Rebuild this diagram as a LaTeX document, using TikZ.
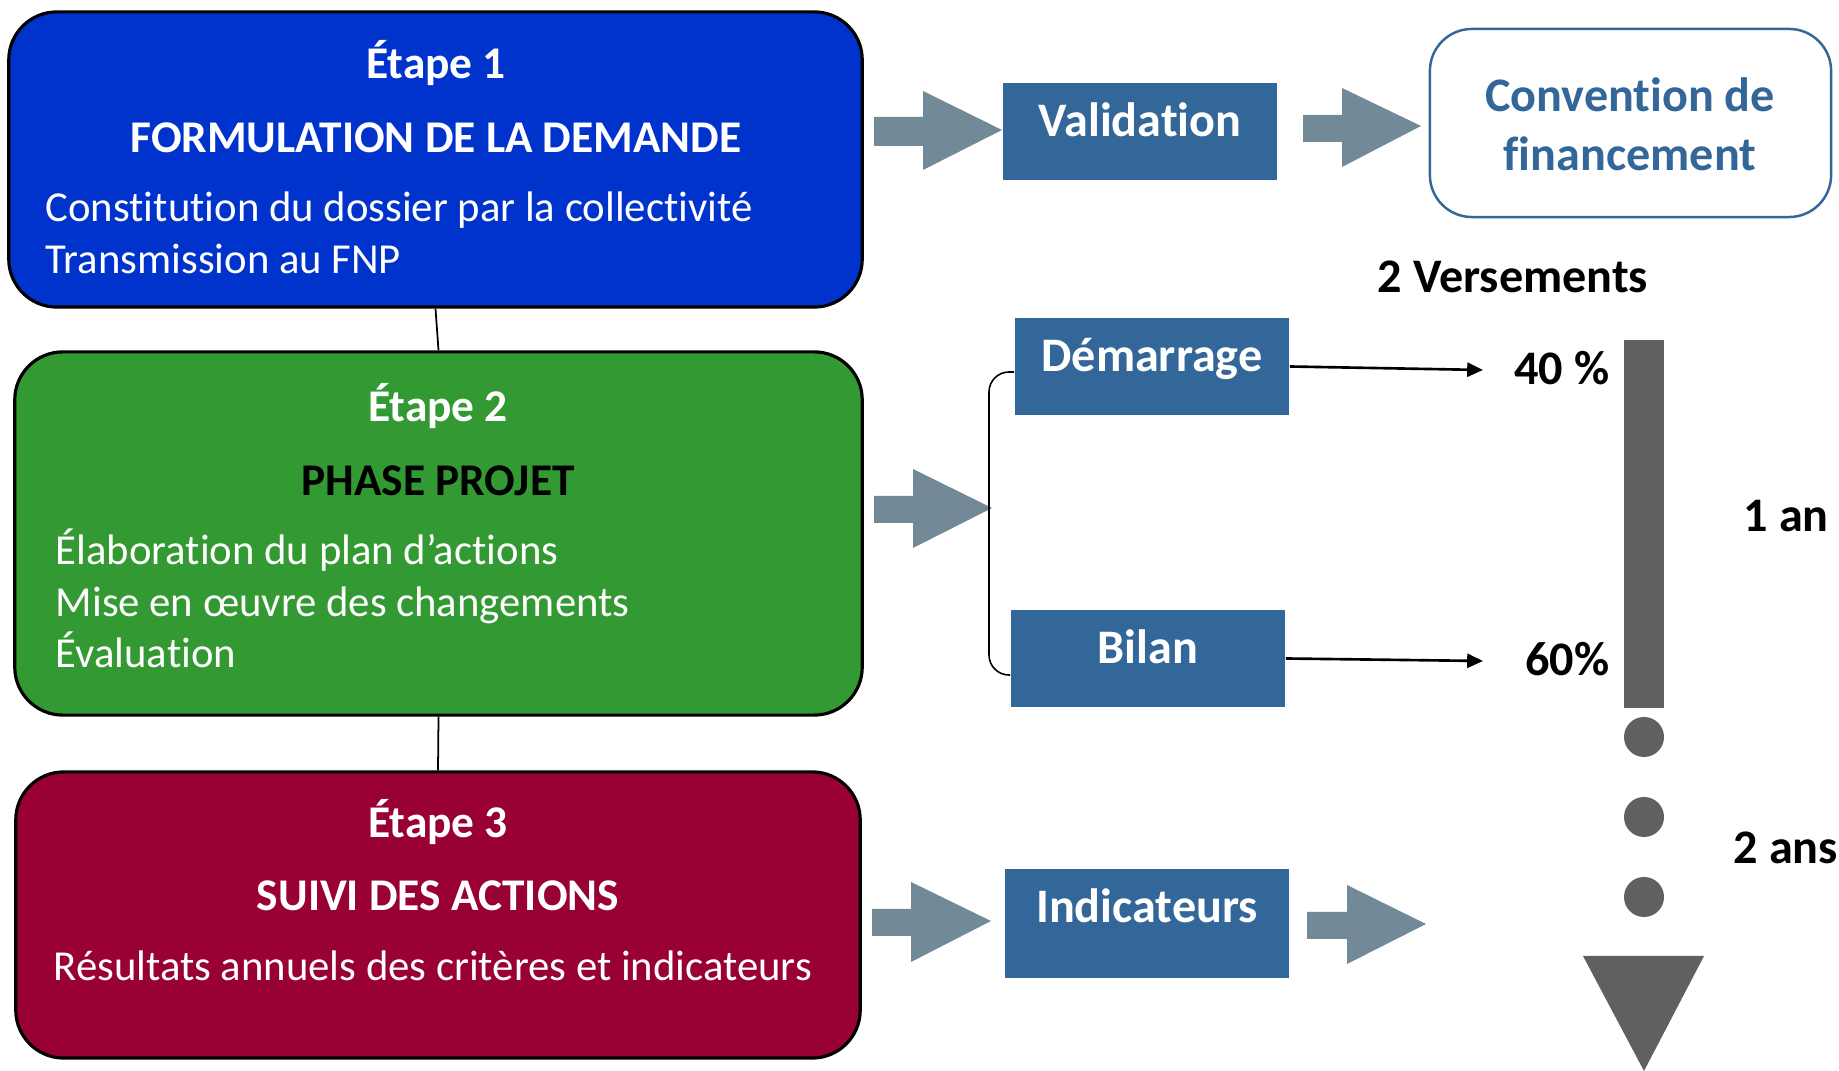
\documentclass[tikz,border=0pt]{standalone}
\usepackage{fontspec}
\setmainfont{Carlito}[Ligatures=NoCommon]
\usetikzlibrary{arrows.meta}
\definecolor{stepblue}{HTML}{0033CC}
\definecolor{stepgreen}{HTML}{339933}
\definecolor{stepred}{HTML}{990033}
\definecolor{boxblue}{HTML}{336699}
\definecolor{arrowgray}{HTML}{728A98}
\definecolor{bargray}{HTML}{606060}
\begin{document}
\begin{tikzpicture}[x=0.01cm,y=-0.01cm,
  stage/.style={draw=black, line width=0.9pt, rounded corners=0.48cm, inner sep=0pt},
  bluebox/.style={fill=boxblue, inner sep=0pt},
  ttl/.style={font=\fontsize{12.9}{15}\selectfont\bfseries, text=white, anchor=base, inner sep=0pt},
  body/.style={font=\fontsize{12.15}{15}\selectfont, text=white, anchor=base west, inner sep=0pt},
  lbl/.style={font=\fontsize{13.7}{16}\selectfont\bfseries, inner sep=0pt},
  blockarrow/.style={fill=arrowgray},
  payarrow/.style={line width=0.75pt, -{Triangle[length=4.5pt,width=4pt]}},
  bracket/.style={line width=0.45pt, rounded corners=0.2cm}
]
\useasboundingbox (0,0) rectangle (1839,1071);

% stage boxes
\node[stage, fill=stepblue, minimum width=8.53cm, minimum height=2.95cm] (s1) at (435.5,159.5) {};
\node[stage, fill=stepgreen, minimum width=8.47cm, minimum height=3.63cm] (s2) at (438.5,533.5) {};
\node[stage, fill=stepred, minimum width=8.44cm, minimum height=2.86cm] (s3) at (438,915) {};

\draw[line width=0.5pt] (s1.south) -- (s2.north);
\draw[line width=0.5pt] (s2.south) -- (s3.north);

% stage 1 texts
\node[ttl] (t1a) at (436,79) {Étape 1};
\node[ttl] (t1b) at (436,153) {FORMULATION DE LA DEMANDE};
\node[body] (t1c) at (45,222) {Constitution du dossier par la collectivité};
\node[body] (t1d) at (45,274) {Transmission au FNP};

% stage 2 texts
\node[ttl] (t2a) at (438,422) {Étape 2};
\node[ttl, text=black] (t2b) at (438,496) {PHASE PROJET};
\node[body] (t2c) at (55,565) {Élaboration du plan d’actions};
\node[body] (t2d) at (55,617) {Mise en œuvre des changements};
\node[body] (t2e) at (55,668) {Évaluation};

% stage 3 texts
\node[ttl] (t3a) at (438,838) {Étape 3};
\node[ttl] (t3b) at (438,911) {SUIVI DES ACTIONS};
\node[body] (t3c) at (53,981) {Résultats annuels des critères et indicateurs};

% blue boxes
\node[bluebox, minimum width=2.74cm, minimum height=0.97cm] (val) at (1140,131.5) {};
\node[bluebox, minimum width=2.74cm, minimum height=0.97cm] (dem) at (1152,366.5) {};
\node[bluebox, minimum width=2.74cm, minimum height=0.97cm] (bil) at (1148,658.5) {};
\node[bluebox, minimum width=2.84cm, minimum height=1.09cm] (ind) at (1147,923.5) {};

\node[lbl, text=white, anchor=base] (valt) at (1140,137) {Validation};
\node[lbl, text=white, anchor=base] (demt) at (1152,372) {Démarrage};
\node[lbl, text=white, anchor=base] (bilt) at (1148,664) {Bilan};
\node[lbl, text=white, anchor=base] (indt) at (1147,923) {Indicateurs};

% convention box
\node[draw=boxblue, line width=0.7pt, fill=white, rounded corners=0.42cm, minimum width=4.01cm, minimum height=1.88cm, inner sep=0pt] (conv) at (1630.5,123) {};
\node[lbl, text=boxblue, anchor=base] (convt1) at (1630,112) {Convention de};
\node[lbl, text=boxblue, anchor=base] (convt2) at (1630,171) {financement};

% block arrows
\fill[blockarrow] (874,117) -- (923,117) -- (923,91) -- (1002,130) -- (923,170) -- (923,146) -- (874,146) -- cycle;
\fill[blockarrow] (1303,115) -- (1342,115) -- (1342,88) -- (1421,126) -- (1342,167) -- (1342,142) -- (1303,142) -- cycle;
\fill[blockarrow] (874,496) -- (913,496) -- (913,469) -- (992,508) -- (913,548) -- (913,523) -- (874,523) -- cycle;
\fill[blockarrow] (872,909) -- (911,909) -- (911,882) -- (991,921) -- (911,962) -- (911,936) -- (872,936) -- cycle;
\fill[blockarrow] (1307,912) -- (1347,912) -- (1347,885) -- (1426,924) -- (1347,964) -- (1347,939) -- (1307,939) -- cycle;

% bracket
\draw[bracket] ([yshift=-0.055cm]dem.west) -| (989,520) |- ([yshift=-0.165cm]bil.west);

% labels on the right
\node[lbl, anchor=base] (vers) at (1513,293) {2 Versements};
\node[lbl, anchor=base east] (p40) at (1610,385) {40 \%};
\node[lbl, anchor=base east] (p60) at (1610,676) {60\%};
\coordinate (a40) at (1483,370);
\coordinate (a60) at (1483,661);
\draw[payarrow] (dem.east) -- (a40);
\draw[payarrow] (bil.east) -- (a60);

% timeline
\fill[bargray] (1624,340) rectangle (1664,708);
\fill[bargray] (1644,737) circle (0.2cm);
\fill[bargray] (1644,817) circle (0.2cm);
\fill[bargray] (1644,897) circle (0.2cm);
\fill[bargray] (1583,956) -- (1704,956) -- (1644,1071) -- cycle;
\node[lbl, anchor=base west] (an1) at (1743,532) {1 an};
\node[lbl, anchor=base west] (an2) at (1733,864) {2 ans};
\end{tikzpicture}
\end{document}
